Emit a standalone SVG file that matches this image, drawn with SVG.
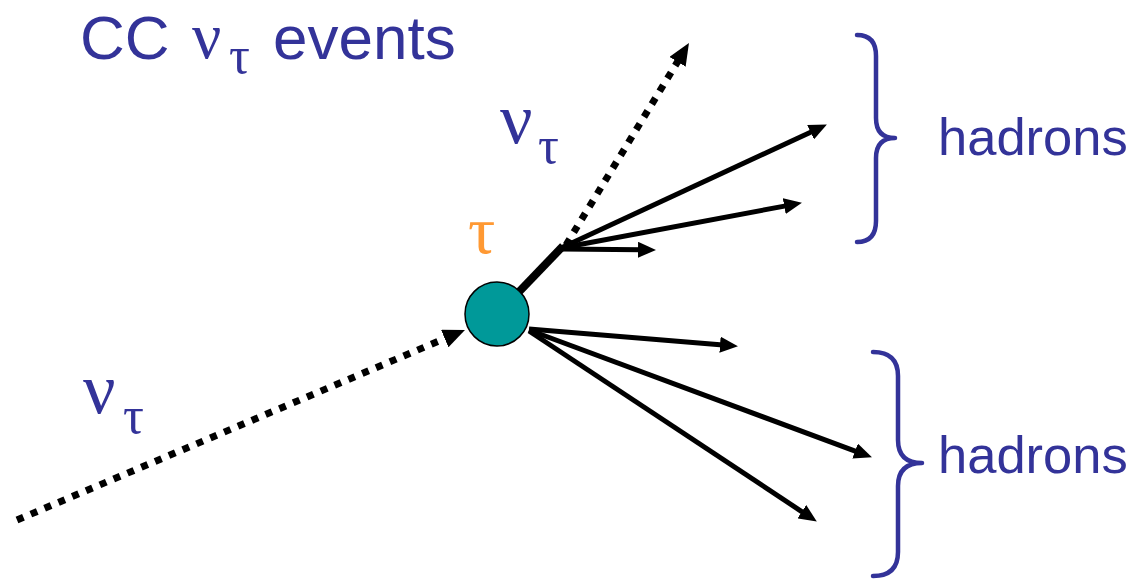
<svg xmlns="http://www.w3.org/2000/svg" width="1133" height="579" viewBox="0 0 1133 579">
<style>
.sans{font-family:"Liberation Sans",Arial,sans-serif;fill:#333399}
.greek{font-family:"Liberation Serif","Times New Roman",serif;fill:#333399}
.had{stroke:#000;stroke-width:5;fill:none;marker-end:url(#ah)}
.dot{stroke:#000;stroke-width:7;fill:none;stroke-dasharray:7 8;marker-end:url(#ahd)}
.brace{stroke:#333399;stroke-width:4.5;fill:none;stroke-linecap:round;stroke-linejoin:round}
</style>
<defs>
<marker id="ah" viewBox="0 0 18 16" refX="3" refY="8" markerWidth="18" markerHeight="16" markerUnits="userSpaceOnUse" orient="auto">
<path d="M0,0 L18,8 L0,16 z" fill="#000"/>
</marker>
<marker id="ahd" viewBox="0 0 22 19" refX="4" refY="9.5" markerWidth="22" markerHeight="19" markerUnits="userSpaceOnUse" orient="auto">
<path d="M0,0 L22,9.5 L0,19 z" fill="#000"/>
</marker>
</defs>
<rect width="1133" height="579" fill="#fff"/>
<g id="title">
<text class="sans" x="80" y="59" font-size="62">CC</text>
<text class="greek" x="192" y="58" font-size="65">ν</text>
<text class="greek" x="229" y="73" font-size="52">τ</text>
<text class="sans" x="273" y="59" font-size="62">events</text>
</g>
<g id="connectors">
<path class="dot" d="M17,520 L448.4,337"/>
<path class="dot" d="M566,245 L679.6,58.4"/>
<path d="M515,296 L563,246" stroke="#000" stroke-width="8" fill="none"/>
<path class="had" d="M561,248 L813.3,130.9"/>
<path class="had" d="M561,248 L787.2,205.6"/>
<path class="had" d="M561,249 L641,249.8"/>
<path class="had" d="M529,329 L723,344.9"/>
<path class="had" d="M529,330 L857.9,452.1"/>
<path class="had" d="M529,331 L804.3,513.3"/>
</g>
<g id="vertex">
<circle cx="497" cy="314" r="32" fill="#009999" stroke="#000" stroke-width="1.5"/>
</g>
<g id="tau-label">
<text x="468" y="253" font-size="68" font-family="'Liberation Serif','Times New Roman',serif" fill="#FF9933">τ</text>
</g>
<g id="nu-out-label">
<text class="greek" x="500" y="143" font-size="72">ν</text>
<text class="greek" x="538" y="163" font-size="52">τ</text>
</g>
<g id="nu-in-label">
<text class="greek" x="83" y="413" font-size="72">ν</text>
<text class="greek" x="123" y="433" font-size="52">τ</text>
</g>
<g id="hadrons-top">
<path class="brace" d="M857,35 Q876,35 876,56 L876,118 Q876,138 895,138 Q876,138 876,158 L876,221 Q876,242 857,242"/>
<text class="sans" x="938" y="155" font-size="52.5">hadrons</text>
</g>
<g id="hadrons-bottom">
<path class="brace" d="M873,352 Q898,352 898,376 L898,440 Q898,463 922,463 Q898,463 898,486 L898,552 Q898,576 873,576"/>
<text class="sans" x="938" y="473" font-size="52.5">hadrons</text>
</g>
</svg>
